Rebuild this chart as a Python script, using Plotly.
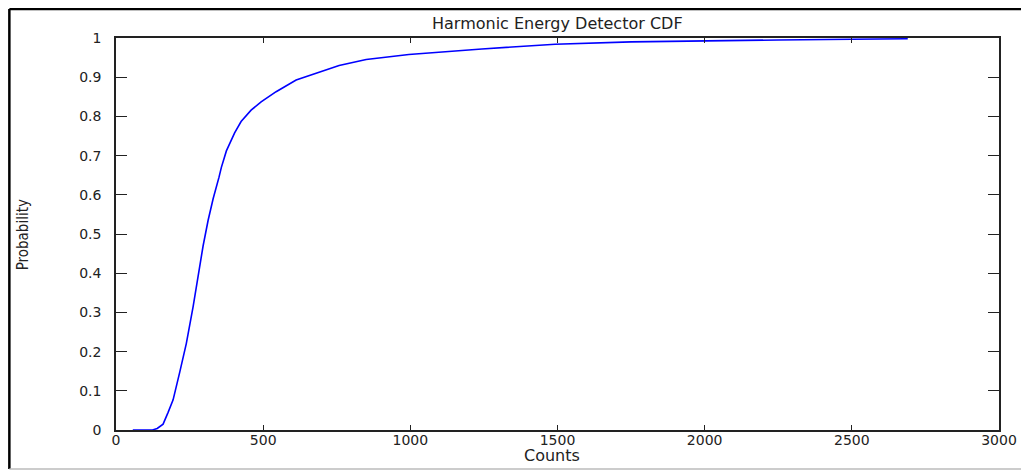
import plotly.graph_objects as go

counts = [57, 124, 140, 160, 177, 194, 217, 239, 262, 279, 296, 313, 330,
          350, 358, 375, 392, 403, 425, 459, 493, 544, 612, 713, 758, 850, 995,
          1243, 1492, 1750, 2000, 2250, 2500, 2690]
probability = [0.0, 0.0, 0.004, 0.015, 0.045, 0.077, 0.149, 0.221, 0.315, 0.395,
               0.470, 0.535, 0.590, 0.645, 0.670, 0.712, 0.742, 0.758,
               0.787, 0.816, 0.837, 0.863, 0.893, 0.920, 0.930, 0.945, 0.958,
               0.972, 0.984, 0.990, 0.993, 0.995, 0.997, 0.998]

x_ticks = [0, 500, 1000, 1500, 2000, 2500, 3000]
y_ticks = [0, 0.1, 0.2, 0.3, 0.4, 0.5, 0.6, 0.7, 0.8, 0.9, 1]
y_tick_labels = ["0", "0.1", "0.2", "0.3", "0.4", "0.5", "0.6", "0.7", "0.8", "0.9", "1"]

# page is rendered with an 8px body margin; figure sized so the plot box lands
# at page pixels x 116..1002, y 38..430
PW, PH = 886, 392
L, T = 108, 30


def px(xp):
    return (xp - 116) / PW


def py(yp):
    return (430 - yp) / PH


fig = go.Figure()
fig.add_trace(go.Scatter(x=counts, y=probability, mode="lines",
                         line=dict(color="#0000FF", width=1.6), showlegend=False))

tickfont = dict(family="DejaVu Sans, Arial", size=14, color="#222")
fig.update_layout(
    width=1021, height=463,
    margin=dict(l=L, r=1021 - L - PW, t=T, b=463 - T - PH),
    paper_bgcolor="white", plot_bgcolor="white",
    xaxis=dict(range=[0, 3000], tickvals=x_ticks, ticks="inside", ticklen=5,
               tickcolor="#222", mirror="ticks", showline=True, linecolor="#222",
               linewidth=1.5, showgrid=False, zeroline=False, tickfont=tickfont,
               ticklabelstandoff=-4),
    yaxis=dict(range=[0, 1], tickvals=y_ticks, ticktext=y_tick_labels,
               ticks="inside", ticklen=11, tickcolor="#222", mirror="ticks",
               showline=True, linecolor="#222", linewidth=1.5, showgrid=False,
               zeroline=False, tickfont=tickfont, ticklabelstandoff=10),
    annotations=[
        dict(text="Harmonic Energy Detector CDF", xref="paper", yref="paper",
             x=0.5, y=py(23), xanchor="center", yanchor="middle",
             showarrow=False, font=dict(family="DejaVu Sans, Arial", size=16, color="#222")),
        dict(text="Counts", xref="paper", yref="paper",
             x=px(553), y=py(455), xanchor="center", yanchor="middle",
             showarrow=False, font=dict(family="DejaVu Sans, Arial", size=16, color="#222")),
        dict(text="Probability", xref="paper", yref="paper", textangle=-90,
             x=px(23), y=py(235), xanchor="center", yanchor="middle",
             showarrow=False,
             font=dict(family="Liberation Sans Narrow, DejaVu Sans Condensed, Arial", size=15, color="#222")),
    ],
    shapes=[
        dict(type="line", xref="paper", yref="paper", x0=px(9), x1=px(1040),
             y0=py(9), y1=py(9), line=dict(color="black", width=2.5)),
        dict(type="line", xref="paper", yref="paper", x0=px(9), x1=px(9),
             y0=py(9), y1=py(469), line=dict(color="black", width=2.5)),
        dict(type="line", xref="paper", yref="paper", x0=px(9), x1=px(1040),
             y0=py(469), y1=py(469), line=dict(color="#bbb", width=1.5)),
    ],
)

fig.write_html("out.html")
